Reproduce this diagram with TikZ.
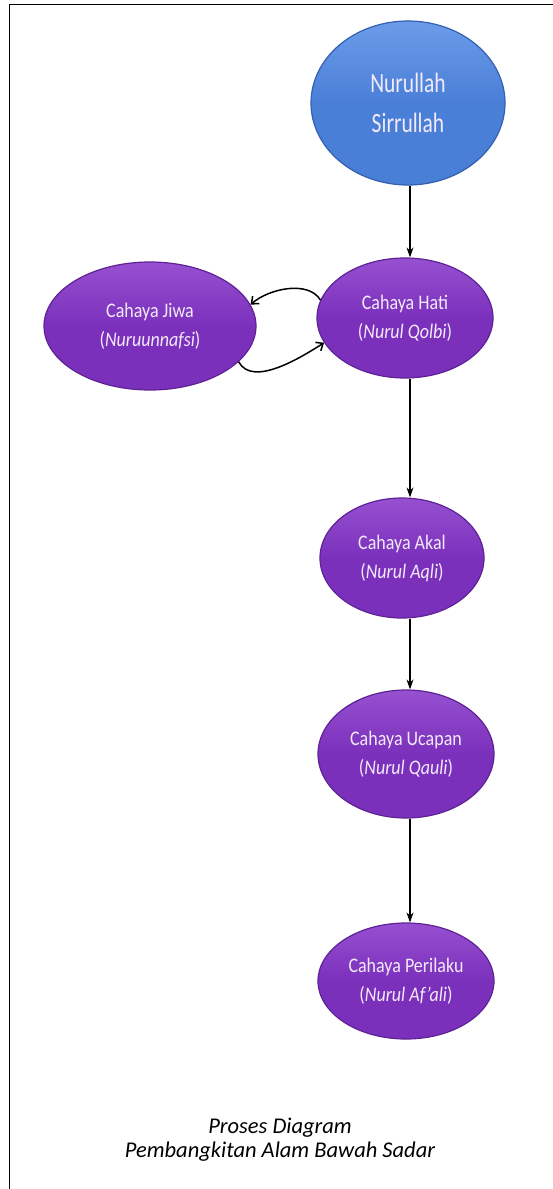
\documentclass[tikz,border=0pt]{standalone}
\usepackage{fontspec}
\setmainfont{Carlito}
\usetikzlibrary{arrows.meta,shapes.geometric}
\definecolor{bluefill}{HTML}{4A7FD8}
\definecolor{bluetop}{HTML}{6C9BE8}
\definecolor{blueedge}{HTML}{3460B0}
\definecolor{purpfill}{HTML}{7B30BC}
\definecolor{purptop}{HTML}{9650D0}
\definecolor{purpedge}{HTML}{5E2296}
\definecolor{txtlight}{HTML}{F2EAF8}
\newcommand{\tl}[2][1.15]{\scalebox{1}[#1]{#2}}
\tikzset{
  bubble/.style={ellipse, draw=purpedge, line width=1.2pt, top color=purptop, bottom color=purpfill, middle color=purpfill, inner sep=0pt, text=txtlight, font=\fontsize{18}{29}\selectfont, align=center},
  bluebubble/.style={ellipse, draw=blueedge, line width=1.2pt, top color=bluetop, bottom color=bluefill, middle color=bluefill, inner sep=0pt, text=txtlight, font=\fontsize{21.5}{40}\selectfont, align=center},
  conn/.style={draw=black, line width=1.2pt, -{Stealth[length=10pt,width=7pt]}},
  loopconn/.style={draw=black, line width=1.5pt, -{Straight Barb[length=6pt,width=10pt]}},
}
\begin{document}
\begin{tikzpicture}[x=1pt,y=-1pt]
\useasboundingbox (0,0) rectangle (553,1189);
\fill[white] (0,0) rectangle (553,1189);
% frame
\draw[line width=1.8pt] (9.5,1189) -- (9.5,4.5) -- (553,4.5);
% shapes
\node[bluebubble, minimum width=194pt, minimum height=164pt] (nur) at (408,103) {\tl[1.3]{Nurullah}\\\tl[1.3]{Sirrullah}};
\node[bubble, minimum width=176pt, minimum height=120pt] (hati) at (405,318) {\tl{Cahaya Hati}\\\tl{(\textit{Nurul Qolbi})}};
\node[bubble, minimum width=212pt, minimum height=128pt] (jiwa) at (150,326) {\tl{Cahaya Jiwa}\\\tl{(\textit{Nuruunnafsi})}};
\node[bubble, minimum width=164pt, minimum height=120pt] (akal) at (402,558) {\tl{Cahaya Akal}\\\tl{(\textit{Nurul Aqli})}};
\node[bubble, minimum width=176pt, minimum height=128pt] (ucap) at (406,754) {\tl{Cahaya Ucapan}\\\tl{(\textit{Nurul Qauli})}};
\node[bubble, minimum width=176pt, minimum height=116pt] (peri) at (406,981) {\tl{Cahaya Perilaku}\\\tl{(\textit{Nurul Af'ali})}};
% connectors
\draw[conn] ([xshift=2pt]nur.south) -- ([xshift=2pt]nur.south |- hati.north);
\draw[conn] ([xshift=5pt]hati.south) -- ([xshift=5pt]hati.south |- akal.north);
\draw[conn] ([xshift=8pt]akal.south) -- ([xshift=8pt]akal.south |- ucap.north);
\draw[conn] ([xshift=4pt]ucap.south) -- ([xshift=4pt]ucap.south |- peri.north);
\draw[loopconn] (hati.168) .. controls +(-12,-20) and +(18,-16) .. (jiwa.12);
\draw[loopconn] (jiwa.-22) .. controls +(14,26) and +(-22,14) .. (hati.-163);
% caption
\node[font=\fontsize{22.5}{24}\selectfont\itshape, align=center] (cap) at (280,1140) {Proses Diagram\\Pembangkitan Alam Bawah Sadar};
\end{tikzpicture}
\end{document}
